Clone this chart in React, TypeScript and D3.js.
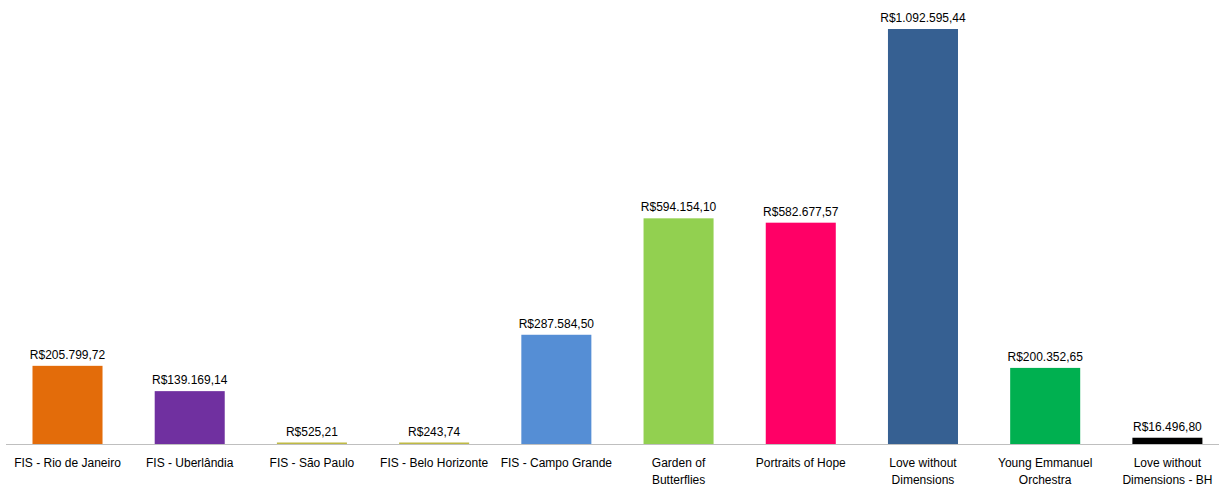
import React from "react";
import * as d3 from "d3";

const categories: string[] = [
  "FIS - Rio de Janeiro",
  "FIS - Uberlândia",
  "FIS - São Paulo",
  "FIS - Belo Horizonte",
  "FIS - Campo Grande",
  "Garden of\nButterflies",
  "Portraits of Hope",
  "Love without\nDimensions",
  "Young Emmanuel\nOrchestra",
  "Love without\nDimensions - BH",
];

const values: number[] = [
  205799.72, 139169.14, 525.21, 243.74, 287584.5, 594154.1, 582677.57,
  1092595.44, 200352.65, 16496.8,
];

const valueLabels: string[] = [
  "R$205.799,72",
  "R$139.169,14",
  "R$525,21",
  "R$243,74",
  "R$287.584,50",
  "R$594.154,10",
  "R$582.677,57",
  "R$1.092.595,44",
  "R$200.352,65",
  "R$16.496,80",
];

const colors: string[] = [
  "#E36C0A",
  "#7030A0",
  "#BFBA45",
  "#BFBA45",
  "#558ED5",
  "#92D050",
  "#FF0066",
  "#366092",
  "#00B050",
  "#000000",
];

const W = 1219;
const H = 486;
const baseY = 444;
const topY = 29;
const font = "'Liberation Sans', Arial, sans-serif";

export default function App() {
  const x = d3
    .scaleBand<string>()
    .domain(categories)
    .range([6.4, 1228.5])
    .paddingInner(0.427)
    .paddingOuter(0.2135);
  const y = d3
    .scaleLinear()
    .domain([0, d3.max(values) as number])
    .range([baseY, topY]);

  return (
    <svg
      width={W}
      height={H}
      style={{ position: "absolute", left: 0, top: 0, background: "#fff" }}
    >
      <line x1={6} x2={W} y1={baseY + 0.5} y2={baseY + 0.5} stroke="#BFBFBF" strokeWidth={1} />
      {categories.map((c, i) => {
        const bx = x(c) as number;
        const bw = x.bandwidth();
        const yTop = y(values[i]);
        const h = Math.max(baseY - yTop, 1.5);
        return (
          <g key={c}>
            <rect x={bx} y={baseY - h} width={bw} height={h} fill={colors[i]} />
            <text
              x={bx + bw / 2}
              y={baseY - h - 7}
              textAnchor="middle"
              fontFamily={font}
              fontSize={12}
              fill="#000"
            >
              {valueLabels[i]}
            </text>
          </g>
        );
      })}
      {categories.map((c) => {
        const cx = (x(c) as number) + x.bandwidth() / 2;
        const lines = c.split("\n");
        return (
          <text
            key={"l" + c}
            x={cx}
            textAnchor="middle"
            fontFamily={font}
            fontSize={12}
            fill="#000"
          >
            {lines.map((ln, j) => (
              <tspan key={j} x={cx} y={467 + j * 16.5}>
                {ln}
              </tspan>
            ))}
          </text>
        );
      })}
    </svg>
  );
}
